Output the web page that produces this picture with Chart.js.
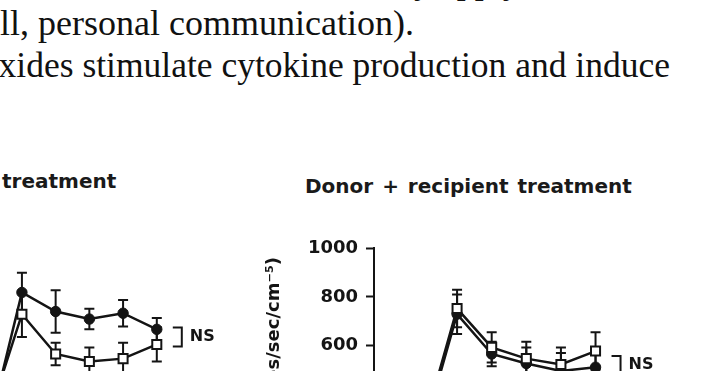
<!DOCTYPE html>
<html><head><meta charset="utf-8">
<script src="https://cdn.jsdelivr.net/npm/chart.js@4.4.1/dist/chart.umd.min.js"></script>
<style>
html,body{margin:0;padding:0;background:#fff;}
body{width:702px;height:371px;overflow:hidden;position:relative;}
.t{position:absolute;font-family:"Liberation Serif","Times New Roman",serif;font-size:36px;line-height:42px;color:#111;white-space:nowrap;}
.h{position:absolute;font-family:"DejaVu Sans",sans-serif;font-weight:bold;font-size:20px;line-height:24px;color:#1a1a1a;white-space:nowrap;}
.c{position:absolute;}
.c canvas{display:block;}
</style></head><body>
<div class="t" style="left:36px;top:-40px">of the host vasculature may apply to</div>
<div class="t" style="right:288px;top:2px;text-align:right">ll, personal communication).</div>
<div class="t" style="right:32px;top:44px;text-align:right;font-size:35.5px">xides stimulate cytokine production and induce</div>
<div class="h" style="left:2px;top:169px">treatment</div>
<div class="h" style="left:305px;top:174px;word-spacing:2px">Donor + recipient treatment</div>
<div class="c" style="left:-177px;top:228px;width:439px;height:283px"><canvas id="lc" width="439" height="283"></canvas></div>
<div class="c" style="left:256px;top:228px;width:446px;height:283px"><canvas id="rc" width="446" height="283"></canvas></div>
<script>
// time points (index 0 is the earlier, lower point mostly below the crop)
const timePoints = [0, 1, 2, 3, 4, 5];
// left panel ("... treatment")
const leftFilled    = [250, 818, 740, 709, 733, 667];
const leftFilledErr = [40, 81, 87, 42, 54, 46];
const leftOpen      = [300, 729, 566, 535, 547, 605];
const leftOpenErr   = [40, 93, 46, 58, 65, 70];
const leftNS        = [597, 674];
// right panel ("Donor + recipient treatment")
const rightFilled    = [230, 729, 566, 527, 496, 512];
const rightFilledErr = [40, 81, 50, 66, 74, 60];
const rightOpen      = [250, 752, 593, 547, 523, 578];
const rightOpenErr   = [40, 77, 62, 69, 70, 77];
const rightNS        = [488, 558];
// y axis
const yTicksStep = 200;
const yMin = 0, yMax = 1000;
const yTitle = 'PVR (dynes/sec/cm\u207B\u2075)\u2002';

const INK = '#141414';

const errorBars = {
  id: 'errorBars',
  beforeDatasetsDraw(chart) {
    const {ctx, scales: {x, y}} = chart;
    chart.data.datasets.forEach((ds) => {
      if (!ds.errors) return;
      ctx.save();
      ctx.strokeStyle = INK; ctx.lineWidth = 2;
      ds.data.forEach((p, j) => {
        const e = ds.errors[j];
        const px = x.getPixelForValue(p.x);
        const top = y.getPixelForValue(p.y + e), bot = y.getPixelForValue(p.y - e);
        ctx.beginPath();
        ctx.moveTo(px, top); ctx.lineTo(px, bot);
        ctx.moveTo(px - 5, top); ctx.lineTo(px + 5, top);
        ctx.moveTo(px - 5, bot); ctx.lineTo(px + 5, bot);
        ctx.stroke();
      });
      ctx.restore();
    });
  }
};

const nsBracket = {
  id: 'nsBracket',
  afterDatasetsDraw(chart, args, opts) {
    const {ctx, scales: {x, y}} = chart;
    const lastX = timePoints[timePoints.length - 1];
    const bx = x.getPixelForValue(lastX) + 16;
    const t = y.getPixelForValue(opts.range[1]), b = y.getPixelForValue(opts.range[0]);
    ctx.save();
    ctx.strokeStyle = INK; ctx.lineWidth = 2;
    ctx.beginPath();
    ctx.moveTo(bx, t); ctx.lineTo(bx + 9, t); ctx.lineTo(bx + 9, b); ctx.lineTo(bx, b);
    ctx.stroke();
    ctx.fillStyle = INK;
    ctx.font = 'bold 16px "DejaVu Sans", sans-serif';
    ctx.textBaseline = 'middle'; ctx.textAlign = 'left';
    ctx.fillText('NS', bx + 17, (t + b) / 2);
    ctx.restore();
  }
};

function pts(arr) { return timePoints.map((t, i) => ({x: t, y: arr[i]})); }

function makeChart(id, filled, filledErr, open, openErr, ns, xMax) {
  const filledDs = {
    label: 'filled', data: pts(filled), errors: filledErr,
    borderColor: INK, borderWidth: 2.5, tension: 0,
    pointStyle: 'circle', pointRadius: 5.2, pointBackgroundColor: INK, pointBorderColor: INK, pointBorderWidth: 1
  };
  const openDs = {
    label: 'open', data: pts(open), errors: openErr,
    borderColor: INK, borderWidth: 2.5, tension: 0,
    pointStyle: 'rect', pointRadius: 6.4, pointBackgroundColor: '#fff', pointBorderColor: INK, pointBorderWidth: 2
  };
  return new Chart(document.getElementById(id), {
    type: 'line',
    data: {datasets: [openDs, filledDs]},
    options: {
      responsive: false, animation: false, events: [],
      layout: {padding: {top: 20, right: 58, bottom: 5, left: 0}},
      plugins: {legend: {display: false}, tooltip: {enabled: false}, nsBracket: {range: ns}},
      scales: {
        x: {type: 'linear', min: -1.4, max: xMax, display: false},
        y: {
          min: yMin, max: yMax,
          afterFit(s) { s.width = 118; },
          ticks: {stepSize: yTicksStep, color: INK, padding: 8, format: {useGrouping: false},
                  font: {family: 'DejaVu Sans', weight: 'bold', size: 18}},
          grid: {drawOnChartArea: false, tickLength: 8, tickWidth: 2, tickColor: INK},
          border: {display: true, color: INK, width: 2},
          title: {display: true, text: yTitle, align: 'end', color: INK,
                  font: {family: 'DejaVu Sans', weight: 'bold', size: 18},
                  padding: {top: 8, bottom: 0}}
        }
      }
    },
    plugins: [errorBars, nsBracket]
  });
}

makeChart('lc', leftFilled, leftFilledErr, leftOpen, leftOpenErr, leftNS, 6.4);
makeChart('rc', rightFilled, rightFilledErr, rightOpen, rightOpenErr, rightNS, 6.4);
</script>
</body></html>
